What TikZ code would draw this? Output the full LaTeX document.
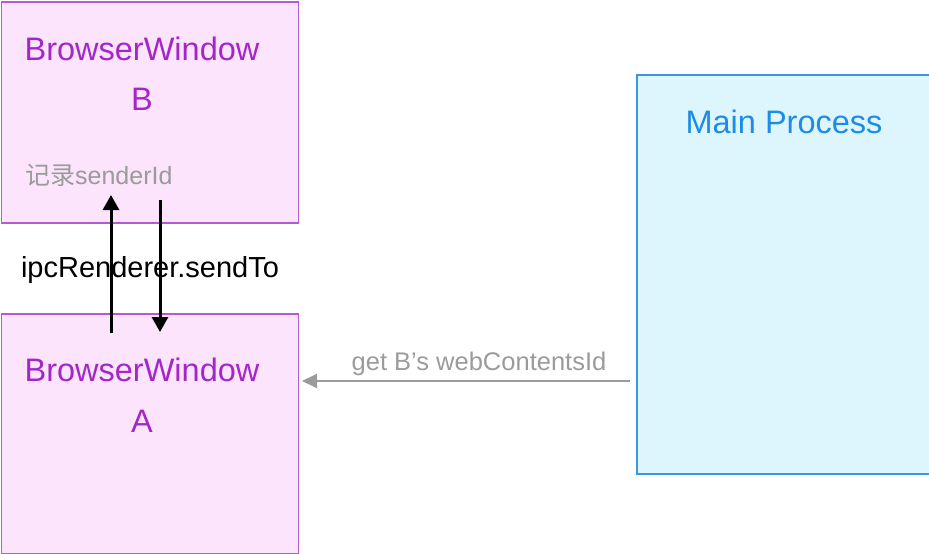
\documentclass[tikz,border=0pt]{standalone}
\usepackage{fontspec}
\setmainfont{Liberation Sans}
\newfontfamily\cjk{Noto Sans CJK SC}
\usetikzlibrary{arrows.meta}
\definecolor{winfill}{RGB}{252,228,252}
\definecolor{winline}{RGB}{180,90,210}
\definecolor{wintext}{RGB}{165,38,200}
\definecolor{mainfill}{RGB}{221,246,254}
\definecolor{mainline}{RGB}{60,150,224}
\definecolor{maintext}{RGB}{30,140,230}
\definecolor{notegrey}{RGB}{155,155,155}

\begin{document}
\begin{tikzpicture}[x=1pt,y=-1pt]
	\tikzstyle{every node}+=[inner sep=0pt]
	\tikzstyle{win}=[draw=winline,fill=winfill,line width=1.5pt,anchor=north west,minimum width=297pt]
	\tikzstyle{wtitle}=[text=wintext,font=\fontsize{32.5}{38}\selectfont,anchor=base]
	\tikzstyle{send}=[line width=3pt,-{Triangle[length=15pt,width=16pt]}]
	\useasboundingbox (0,0) rectangle (929,554);
	% the three windows
	\node[win,minimum height=221pt] (boxB) at (0.5,1) {};
	\node[win,minimum height=240pt] (boxA) at (0.5,313) {};
	\node[draw=mainline,fill=mainfill,line width=1.5pt,anchor=north west,minimum width=310pt,minimum height=399pt] (main) at (636,74) {};
	\node[wtitle] (titleB) at (142,60) {BrowserWindow};
	\node[wtitle] (letterB) at (142,110) {B};
	\node[text=notegrey,font=\fontsize{25}{30}\selectfont,anchor=base west] (rec) at (25,184) {{\cjk 记录}senderId};
	\node[wtitle] (titleA) at (142,381) {BrowserWindow};
	\node[wtitle] (letterA) at (142,432) {A};
	\node[text=maintext,font=\fontsize{32.5}{38}\selectfont,anchor=base] (mainT) at (784,133) {Main Process};
	% messages
	\node[font=\fontsize{29}{34}\selectfont,anchor=base] (ipc) at (150,277) {ipcRenderer.sendTo};
	\coordinate (upS) at (111,333);
	\coordinate (upE) at (111,195);
	\coordinate (downS) at (160,200);
	\coordinate (downE) at (160,332);
	\draw[send] (upS) -- (upE);
	\draw[send] (downS) -- (downE);
	\coordinate (getS) at (630,381);
	\coordinate (getE) at (302,381);
	\draw[notegrey,line width=2pt,-{Triangle[length=15pt,width=14pt]}] (getS) -- (getE);
	\node[text=notegrey,font=\fontsize{25.5}{30}\selectfont,anchor=base] (getL) at (479,370) {get B’s webContentsId};
\end{tikzpicture}
\end{document}
